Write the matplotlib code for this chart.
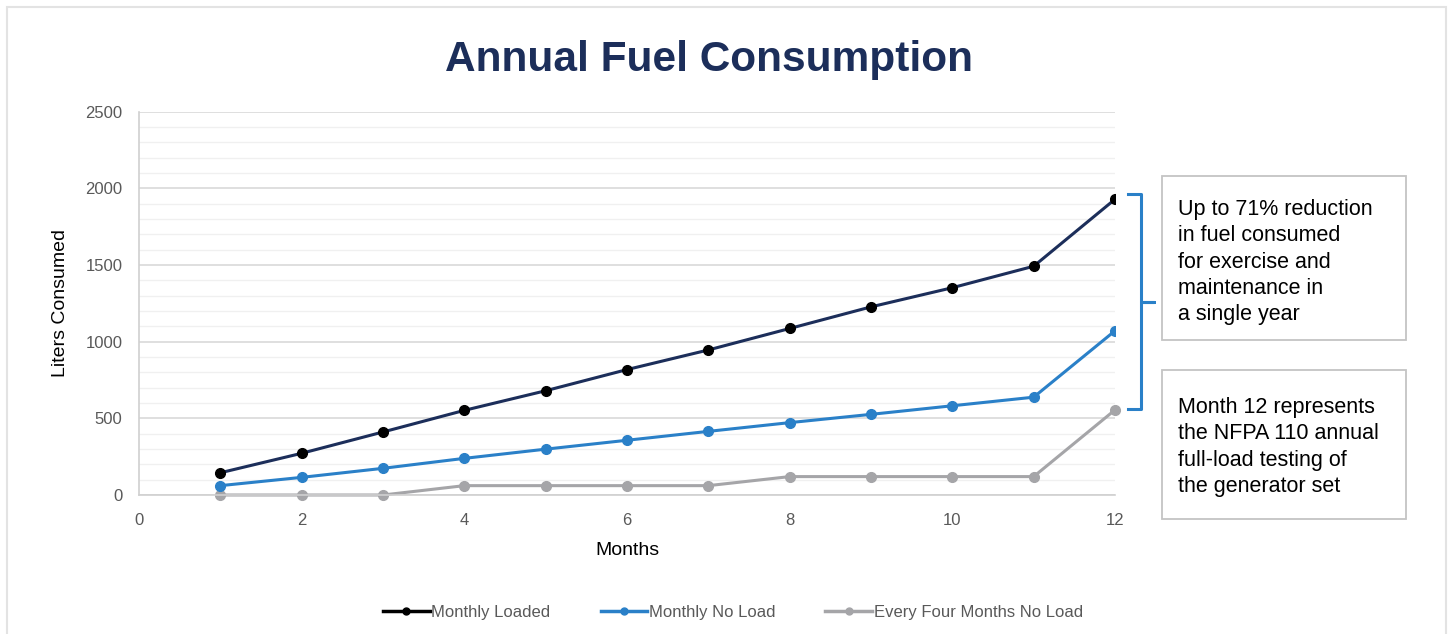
import matplotlib
matplotlib.use('Agg')
import matplotlib.pyplot as plt
from matplotlib.patches import Rectangle
from matplotlib.lines import Line2D

plt.rcParams['font.family'] = ['Liberation Sans', 'DejaVu Sans']

months = [1, 2, 3, 4, 5, 6, 7, 8, 9, 10, 11, 12]
monthly_loaded = [145, 272, 411, 552, 680, 818, 946, 1086, 1227, 1352, 1492, 1929]
monthly_no_load = [61, 115, 174, 239, 299, 357, 415, 472, 526, 582, 638, 1071]
every_four_no_load = [0, 0, 0, 61, 61, 61, 61, 120, 120, 120, 120, 555]

x_ticks = [0, 2, 4, 6, 8, 10, 12]
y_ticks = [0, 500, 1000, 1500, 2000, 2500]

note_reduction = 'Up to 71% reduction\nin fuel consumed\nfor exercise and\nmaintenance in\na single year'
note_month12 = 'Month 12 represents\nthe NFPA 110 annual\nfull-load testing of\nthe generator set'

NAVY = '#1c2e5a'
BLUE = '#2a80c8'
GREY = '#a5a5a8'
TICK_GREY = '#595959'

fig = plt.figure(figsize=(14.5, 6.34), dpi=100)
W, H = 1450, 634

def fx(px):
    return px / W

def fy(py):
    return 1 - py / H

# outer frame
fig.add_artist(Rectangle((fx(7), fy(640)), fx(1446 - 7), fy(7) - fy(640),
                         transform=fig.transFigure, fill=False,
                         edgecolor='#e3e3e3', linewidth=1.5))

ax = fig.add_axes([fx(139), fy(495), fx(1115) - fx(139), fy(111.7) - fy(495)])

ax.plot(months, monthly_loaded, color=NAVY, linewidth=2.2, marker='o',
        markersize=7, markerfacecolor='black', markeredgecolor='black',
        label='Monthly Loaded', zorder=4)
ax.plot(months, monthly_no_load, color=BLUE, linewidth=2.2, marker='o',
        markersize=7, markerfacecolor=BLUE, markeredgecolor=BLUE,
        label='Monthly No Load', zorder=3)
ax.plot(months, every_four_no_load, color=GREY, linewidth=2.2, marker='o',
        markersize=7, markerfacecolor=GREY, markeredgecolor=GREY,
        label='Every Four Months No Load', zorder=2, clip_on=False)

ax.set_xlim(0, 12)
ax.set_ylim(0, 2500)
ax.set_xticks(x_ticks)
ax.set_yticks(y_ticks)
ax.set_yticks(range(0, 2501, 100), minor=True)
ax.tick_params(axis='both', which='both', length=0, labelsize=12,
               labelcolor=TICK_GREY)
ax.tick_params(axis='x', pad=13)
ax.tick_params(axis='y', pad=12)
ax.grid(True, which='major', axis='y', color='#d9d9d9', linewidth=1.2, zorder=0)
ax.grid(True, which='minor', axis='y', color='#f0f0f0', linewidth=1.0, zorder=0)
ax.set_axisbelow(True)
for side in ['top', 'right']:
    ax.spines[side].set_visible(False)
for side in ['left', 'bottom']:
    ax.spines[side].set_color('#d0d0d0')
    ax.spines[side].set_linewidth(1.2)

ax.set_xlabel('Months', fontsize=14, color='black', labelpad=10)
ax.set_ylabel('Liters Consumed', fontsize=14, color='black', labelpad=12)

fig.text(fx(709), fy(60), 'Annual Fuel Consumption', ha='center', va='center',
         fontsize=30.5, fontweight='bold', color=NAVY)

# legend
handles = [
    Line2D([0], [0], color='black', linewidth=2.5, marker='o', markersize=5),
    Line2D([0], [0], color=BLUE, linewidth=2.5, marker='o', markersize=5),
    Line2D([0], [0], color=GREY, linewidth=2.5, marker='o', markersize=5),
]
fig.legend(handles, ['Monthly Loaded', 'Monthly No Load', 'Every Four Months No Load'],
           loc='center', bbox_to_anchor=(fx(733), fy(612)), ncol=3, frameon=False,
           fontsize=12, labelcolor=TICK_GREY, handlelength=2.8, handletextpad=0.1,
           columnspacing=3.0)

# curly bracket
bx0, bx1, btip = 1128, 1141, 1154
btop, bbot, bmid = 194, 409, 302
bracket_x = [bx0, bx1, bx1, btip, bx1, bx1, bx0]
bracket_y = [btop, btop, bmid, bmid, bmid, bbot, bbot]
fig.add_artist(Line2D([fx(v) for v in bracket_x], [fy(v) for v in bracket_y],
                      transform=fig.transFigure, color=BLUE, linewidth=2.2,
                      solid_joinstyle='round'))

# note boxes
for (top, bot, text, ty) in [(176, 340, note_reduction, 207),
                             (370, 519, note_month12, 405)]:
    fig.add_artist(Rectangle((fx(1162), fy(bot)), fx(1406 - 1162), fy(top) - fy(bot),
                             transform=fig.transFigure, fill=False,
                             edgecolor='#c4c4c4', linewidth=1.3))
    fig.text(fx(1178), fy(ty - 8), text, ha='left', va='top', fontsize=15.5,
             color='black', linespacing=1.33)

fig.savefig('out.png', dpi=100, facecolor='white')
